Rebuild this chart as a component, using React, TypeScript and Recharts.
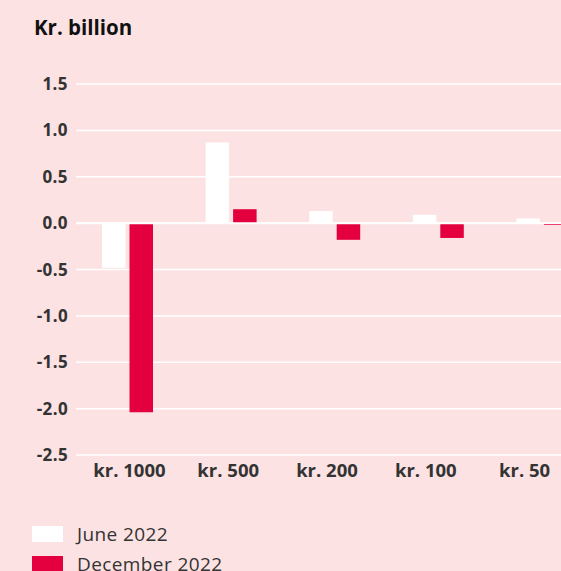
import React from "react";
import { BarChart, Bar, XAxis, YAxis, CartesianGrid, ReferenceLine } from "recharts";

const categories = ["kr. 1000", "kr. 500", "kr. 200", "kr. 100", "kr. 50"];
const june2022 = [-0.48, 0.87, 0.13, 0.09, 0.05];
const december2022 = [-2.04, 0.15, -0.18, -0.16, -0.02];
const yTicks = [-2.5, -2.0, -1.5, -1.0, -0.5, 0.0, 0.5, 1.0, 1.5];

const data = categories.map((c, i) => ({ name: c, june: june2022[i], dec: december2022[i] }));

const BG = "#FCE2E2";
const RED = "#E4003F";
const FONT = "'Open Sans', 'Noto Sans', sans-serif";

export default function App() {
  return (
    <div style={{ position: "fixed", left: 0, top: 0, width: 561, height: 571, overflow: "hidden", background: BG, fontFamily: FONT }}>
      <div style={{ position: "absolute", left: 34, top: 13, fontSize: 20.5, fontWeight: 700, color: "#111" }}>Kr. billion</div>
      <BarChart
        width={594}
        height={571}
        data={data}
        margin={{ top: 84, right: 0, left: 0, bottom: 86 }}
        barSize={23.5}
        barGap={4}
      >
        <CartesianGrid horizontal vertical={false} stroke="#ffffff" strokeWidth={1.5} />
        <XAxis dataKey="name" hide height={0} />
        <XAxis
          xAxisId="lbl"
          dataKey="name"
          axisLine={false}
          tickLine={false}
          height={30}
          padding={{ left: 4, right: 20 }}
          tick={{ fill: "#333", fontSize: 18.5, fontWeight: 700, fontFamily: FONT }}
          interval={0}
          dy={1}
        />
        <YAxis
          domain={[-2.5, 1.5]}
          ticks={yTicks}
          axisLine={false}
          tickLine={false}
          width={76}
          tickFormatter={(v: number) => v.toFixed(1)}
          tick={{ fill: "#333", fontSize: 17, fontWeight: 700, fontFamily: FONT, letterSpacing: 0.4 }}
          dx={0}
        />
        <Bar dataKey="june" fill="#ffffff" isAnimationActive={false} />
        <Bar dataKey="dec" fill={RED} isAnimationActive={false} />
        <ReferenceLine y={0} stroke="#ffffff" strokeWidth={2} />
      </BarChart>
      <div style={{ position: "absolute", left: 32, top: 526, fontSize: 19, color: "#333", letterSpacing: 0.4 }}>
        <div style={{ display: "flex", alignItems: "center", height: 16, marginBottom: 14 }}>
          <span style={{ display: "inline-block", width: 31, height: 16, background: "#ffffff", marginRight: 14 }} />
          <span>June 2022</span>
        </div>
        <div style={{ display: "flex", alignItems: "center", height: 16 }}>
          <span style={{ display: "inline-block", width: 31, height: 16, background: RED, marginRight: 14 }} />
          <span>December 2022</span>
        </div>
      </div>
    </div>
  );
}
